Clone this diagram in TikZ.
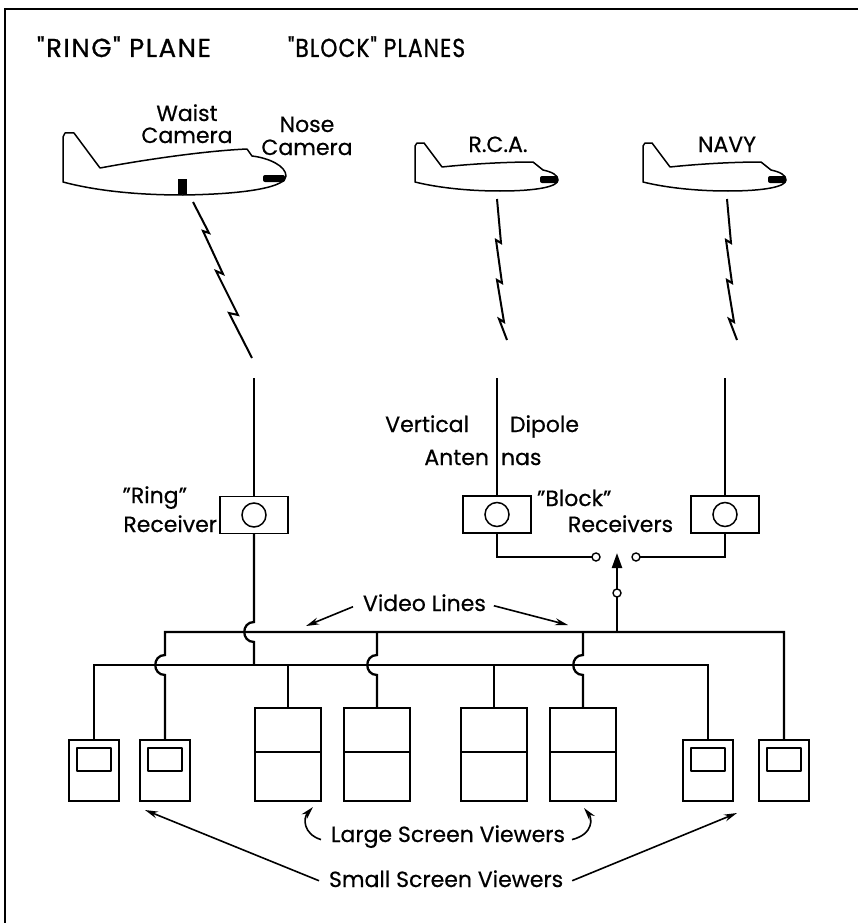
\documentclass[tikz,border=0pt]{standalone}
\usepackage{fontspec}
\setmainfont{Poppins}[FakeBold=0.5]
\newfontfamily\headfont{Poppins}[FakeBold=0.8, LetterSpace=6]
\newfontfamily\headfontnarrow{Poppins}[FakeBold=0.8, FakeStretch=0.84, LetterSpace=4]
\usetikzlibrary{arrows.meta,calc}

% airplane outlines, drawn in points from the tail's top-left corner (y downwards)
\tikzset{
  bigplane/.pic={
    \draw[outline] (0,4) -- (2,0) -- (11,0) -- (37,35)
      .. controls (80,27) and (140,18) .. (184,16) -- (189,23)
      .. controls (206,25) and (223,33) .. (223,43)
      .. controls (223,53) and (190,61) .. (120,62)
      .. controls (70,62) and (30,57) .. (0,49) -- cycle;
    \fill (115,46) rectangle (124,61);
    \fill[rounded corners=2pt] (200,42) rectangle (222,49);
  },
  smallplane/.pic={
    \draw[outline] (0,3) -- (2,0) -- (9,0) -- (27,24)
      .. controls (55,21) and (90,19) .. (118,19) -- (128,27)
      .. controls (137,29) and (143,32) .. (143,37)
      .. controls (143,44) and (120,48) .. (85,48)
      .. controls (50,48) and (20,44) .. (0,39) -- cycle;
    \fill[rounded corners=2pt] (125,33) rectangle (143,40);
  }
}

\begin{document}
\begin{tikzpicture}[x=1pt,y=-1pt,
  wire/.style={line width=2.3pt},
  outline/.style={line width=1.5pt, line join=round},
  bolt/.style={line width=2pt, line join=miter},
  pointer/.style={line width=1.6pt, -{Stealth[length=13pt,width=7pt]}},
  lbl/.style={font=\fontsize{22}{24}\selectfont, inner sep=0pt, outer sep=0pt},
  ttl/.style={font=\headfont\fontsize{26}{28}\selectfont, inner sep=0pt, outer sep=0pt},
  rcvbox/.style={draw, line width=1.5pt, minimum width=68pt, minimum height=37pt, inner sep=0pt, outer sep=0pt},
  dial/.style={circle, draw, line width=1.5pt, minimum size=24pt, inner sep=0pt},
  term/.style={circle, draw, fill=white, line width=1.4pt, minimum size=8pt, inner sep=0pt, outer sep=0pt},
  lgview/.style={draw, line width=1.5pt, minimum width=66pt, minimum height=93pt, inner sep=0pt, outer sep=0pt},
  smview/.style={draw, line width=1.5pt, minimum width=50pt, minimum height=61pt, inner sep=0pt, outer sep=0pt}
]
\useasboundingbox (0,0) rectangle (858,923);

% frame
\draw[line width=1.6pt] (5,923) -- (5,9) -- (858,9);

% headings
\node[ttl, anchor=base west] (hring) at (37,57) {"RING" PLANE};
\node[ttl, font=\headfontnarrow\fontsize{26}{28}\selectfont, anchor=base west] (hblock) at (288,57) {"BLOCK" PLANES};

% planes
\pic at (63,133) {bigplane};
\pic at (415,143) {smallplane};
\pic at (643,143) {smallplane};

\node[lbl, anchor=base] (waist1) at (187,121) {Waist};
\node[lbl, anchor=base] (waist2) at (187,143) {Camera};
\node[lbl, anchor=base] (nose1) at (307,132) {Nose};
\node[lbl, anchor=base] (nose2) at (307,155) {Camera};
\node[lbl, anchor=base] (rca) at (498,152) {R.C.A.};
\node[lbl, anchor=base] (navy) at (727,152) {NAVY};

% radio links
\draw[bolt] (193,202) -- (209,233) -- (203,231) -- (223,274) -- (216,271) -- (238,315) -- (229,313) -- (252,358);
\draw[bolt] (497,199) -- (501,243) -- (496,240) -- (502,283) -- (497,280) -- (504,322) -- (499,319) -- (507,340);
\draw[bolt] (727,199) -- (731,243) -- (726,240) -- (732,283) -- (727,280) -- (734,322) -- (729,319) -- (737,340);

% receivers
\node[rcvbox] (rr) at (254,515) {};
\node[dial] (rrd) at (rr) {};
\node[rcvbox] (rb1) at (497,514.5) {};
\node[dial] (rb1d) at (rb1) {};
\node[rcvbox] (rb2) at (725,514.5) {};
\node[dial] (rb2d) at (rb2) {};

% antennas
\coordinate (ra) at (254,378);
\coordinate (ba1) at (497,378);
\coordinate (ba2) at (725,378);
\draw[wire] (ra) -- (rr.north);
\draw[wire] (ba1) -- (rb1.north);
\draw[wire] (ba2) -- (rb2.north);

\node[lbl, anchor=base east] (vert) at (469,432) {Vertical};
\node[lbl, anchor=base west] (dip) at (510,432) {Dipole};
\node[lbl, anchor=base east] (ant1) at (489,465) {Anten};
\node[lbl, anchor=base west] (ant2) at (501,465) {nas};

\node[lbl, anchor=base east] (ring1) at (187,503) {"Ring"};
\node[lbl, anchor=base east] (ring2) at (217,532) {Receiver};
\node[lbl, anchor=base west] (blk1) at (537,506) {"Block"};
\node[lbl, anchor=base west] (blk2) at (568,532) {Receivers};

% selector switch
\node[term] (t1) at (596,557) {};
\node[term] (t2) at (636,557) {};
\node[term] (t3) at (617,593) {};
\coordinate (tip) at (617,553);
\draw[wire] (rb1.south) |- (t1.west);
\draw[wire] (rb2.south) |- (t2.east);
\draw[wire, -{Triangle[length=15pt,width=10pt]}] (t3.north) -- (tip);

% viewers
\node[smview] (sv1) at (94,770.5) {};
\node[smview] (sv2) at (165,770.5) {};
\node[lgview] (lv1) at (288,754.5) {};
\node[lgview] (lv2) at (377,754.5) {};
\node[lgview] (lv3) at (494,754.5) {};
\node[lgview] (lv4) at (583,754.5) {};
\node[smview] (sv3) at (708,770.5) {};
\node[smview] (sv4) at (784,770.5) {};

\foreach \v in {sv1,sv2,sv3,sv4}
  \draw[outline] ($(\v.north west)+(8,8)$) rectangle ($(\v.north east)+(-8,31)$);
\foreach \v in {lv1,lv2,lv3,lv4}
  \draw[outline] ($(\v.north west)+(0,44)$) -- ($(\v.north east)+(0,44)$);

% video lines: upper bus at 632, lower bus at 665, with crossover hops
\draw[wire] (sv1.north) -- (94,665) -- (708,665) -- (sv3.north);
\draw[wire] (sv2.north) -- (165,675) .. controls (152,675) and (152,655) .. (165,655)
  -- (165,632) -- (784,632) -- (sv4.north);
\draw[wire] (rr.south) -- (254,622) .. controls (241,622) and (241,642) .. (254,642) -- (254,665);
\draw[wire] (288,665) -- (lv1.north);
\draw[wire] (377,632) -- (377,655) .. controls (364,655) and (364,675) .. (377,675) -- (lv2.north);
\draw[wire] (494,665) -- (lv3.north);
\draw[wire] (583,632) -- (583,655) .. controls (570,655) and (570,675) .. (583,675) -- (lv4.north);
\draw[wire] (617,632) -- (t3.south);

% labels with pointers
\node[lbl, anchor=base west] (vl) at (363,611) {Video Lines};
\coordinate (vlA) at (306,626);
\coordinate (vlB) at (568,625);
\draw[pointer] ($(vl.west)+(-10,4)$) -- (vlA);
\draw[pointer] ($(vl.east)+(8,3)$) -- (vlB);

\node[lbl, anchor=base west] (lsv) at (331,842) {Large Screen Viewers};
\coordinate (lsA) at (313,807);
\coordinate (lsB) at (584,808);
\draw[pointer] ($(lsv.west)+(-10,3)$) .. controls (303,834) and (303,818) .. (lsA);
\draw[pointer] ($(lsv.east)+(7,3)$) .. controls (594,834) and (592,818) .. (lsB);

\node[lbl, anchor=base west] (ssv) at (329,887) {Small Screen Viewers};
\coordinate (ssA) at (145,810);
\coordinate (ssB) at (737,813);
\draw[pointer] ($(ssv.west)+(-10,2)$) -- (ssA);
\draw[pointer] ($(ssv.east)+(9,2)$) -- (ssB);
\end{tikzpicture}
\end{document}
